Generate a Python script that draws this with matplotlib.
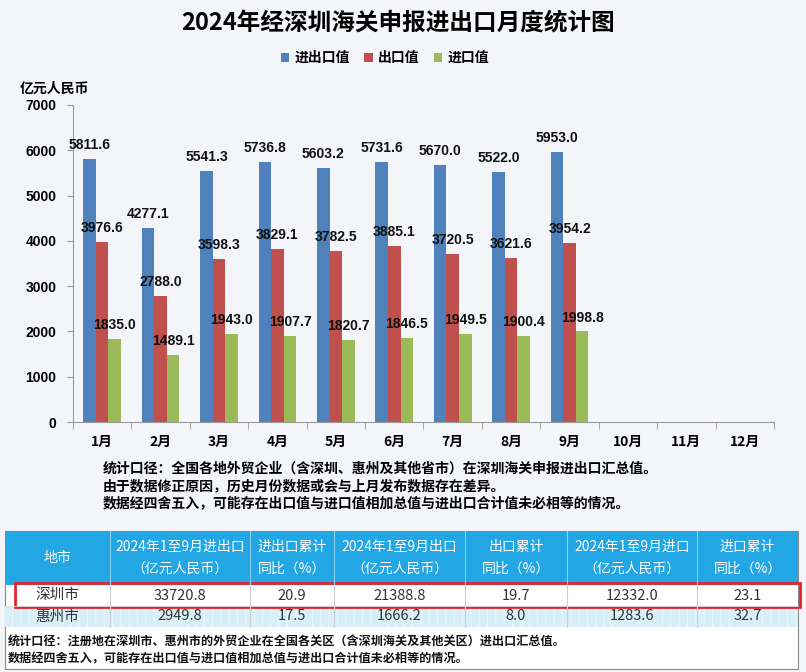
import numpy as np
import matplotlib
matplotlib.use("Agg")
import matplotlib.pyplot as plt
from matplotlib.patches import Rectangle

plt.rcParams['font.family'] = ['Noto Sans CJK SC', 'DejaVu Sans']

# chart data (亿元人民币)
months = ["1月", "2月", "3月", "4月", "5月", "6月", "7月", "8月", "9月", "10月", "11月", "12月"]
total = [5811.6, 4277.1, 5541.3, 5736.8, 5603.2, 5731.6, 5670.0, 5522.0, 5953.0]
export = [3976.6, 2788.0, 3598.3, 3829.1, 3782.5, 3885.1, 3720.5, 3621.6, 3954.2]
imports = [1835.0, 1489.1, 1943.0, 1907.7, 1820.7, 1846.5, 1949.5, 1900.4, 1998.8]
series_names = ["进出口值", "出口值", "进口值"]
yticks = [0, 1000, 2000, 3000, 4000, 5000, 6000, 7000]

# table data
table_header = ["地市", "2024年1至9月进出口\n（亿元人民币）", "进出口累计\n同比（%）",
                "2024年1至9月出口\n（亿元人民币）", "出口累计\n同比（%）",
                "2024年1至9月进口\n（亿元人民币）", "进口累计\n同比（%）"]
cities = ["深圳市", "惠州市"]
city_values = [["33720.8", "20.9", "21388.8", "19.7", "12332.0", "23.1"],
               ["2949.8", "17.5", "1666.2", "8.0", "1283.6", "32.7"]]

notes = ["统计口径：全国各地外贸企业（含深圳、惠州及其他省市）在深圳海关申报进出口汇总值。",
         "由于数据修正原因，历史月份数据或会与上月发布数据存在差异。",
         "数据经四舍五入，可能存在出口值与进口值相加总值与进出口合计值未必相等的情况。"]
table_notes = ["统计口径：注册地在深圳市、惠州市的外贸企业在全国各关区（含深圳海关及其他关区）进出口汇总值。",
               "数据经四舍五入，可能存在出口值与进口值相加总值与进出口合计值未必相等的情况。"]

colors = ["#4F81BD", "#C0504D", "#9BBB59"]
W, H = 806, 672

fig = plt.figure(figsize=(8.06, 6.72), dpi=100, facecolor="#f3f5f8")

# main bar chart
ax = fig.add_axes([73 / W, 1 - 422 / H, 701 / W, 317 / H])
ax.set_facecolor("none")
x = np.arange(len(total))
bw = 0.215
bars = []
for i, (vals, c) in enumerate(zip([total, export, imports], colors)):
    b = ax.bar(x + (i - 1) * bw, vals, bw, color=c, linewidth=0, label=series_names[i])
    bars.append(b)
    for xi, v in zip(x + (i - 1) * bw, vals):
        ax.annotate(f"{v:.1f}", (xi, v), xytext=(0, 5), textcoords="offset points",
                    ha="center", va="bottom", fontsize=10, fontweight="bold",
                    family="Liberation Sans", color="#111111")

ax.set_xlim(-0.5, len(months) - 0.5)
ax.set_ylim(0, 7000)
ax.set_yticks(yticks)
ax.set_yticklabels([str(t) for t in yticks], fontsize=10, fontweight="bold",
                   family="Liberation Sans")
ax.set_xticks(np.arange(len(months)))
ax.set_xticklabels(months, fontsize=10, fontweight="bold")
ax.set_xticks(np.arange(len(months) + 1) - 0.5, minor=True)
ax.tick_params(axis="x", which="major", length=0, pad=9)
ax.tick_params(axis="x", which="minor", length=5, color="#9a9a9a")
ax.tick_params(axis="y", length=4, color="#9a9a9a", pad=8)
for s in ["top", "right"]:
    ax.spines[s].set_visible(False)
for s in ["left", "bottom"]:
    ax.spines[s].set_color("#9a9a9a")

fig.text(398 / W, 1 - 23 / H, "2024年经深圳海关申报进出口月度统计图", ha="center", va="center",
         fontsize=17, fontweight="bold")
fig.legend(handles=bars, loc="center", bbox_to_anchor=(385 / W, 1 - 58 / H), ncol=3,
           frameon=False, handlelength=0.6, handleheight=0.6, handletextpad=0.4,
           columnspacing=1.0, prop={"size": 10, "weight": "bold"})
fig.text(20 / W, 1 - 89 / H, "亿元人民币", ha="left", va="center", fontsize=10, fontweight="bold")

for k, line in enumerate(notes):
    fig.text(103 / W, 1 - (469 + 17 * k) / H, line, ha="left", va="center",
             fontsize=10, fontweight="bold")

# table overlay in pixel coordinates
tx = fig.add_axes([0, 0, 1, 1])
tx.set_xlim(0, W)
tx.set_ylim(H, 0)
tx.axis("off")
tx.set_facecolor("none")

col_edges = [5, 110, 250, 334, 465, 567, 697, 798]
top, head_bot, row_h, frame_bot = 531, 585, 21, 669

tx.add_patch(Rectangle((col_edges[0], top), col_edges[-1] - col_edges[0], frame_bot - top,
                       facecolor="white", edgecolor="#8a8a8a", linewidth=0.8))
tx.add_patch(Rectangle((col_edges[0], top), col_edges[-1] - col_edges[0], head_bot - top,
                       facecolor="#22a6e4", edgecolor="none"))
plt.rcParams['hatch.linewidth'] = 0.6
tx.add_patch(Rectangle((col_edges[0], head_bot + row_h), col_edges[-1] - col_edges[0], row_h,
                       facecolor="#d7eff9", edgecolor="#eef8fc", hatch="||", linewidth=0))
for xe in col_edges[1:-1]:
    tx.plot([xe, xe], [top, head_bot], color="#8fd0f0", lw=0.8)
    tx.plot([xe, xe], [head_bot, head_bot + 2 * row_h], color="#cfcfcf", lw=0.8)
tx.plot([col_edges[0], col_edges[-1]], [head_bot + row_h, head_bot + row_h], color="#e0e0e0", lw=0.6)

centers = [(a + b) / 2 for a, b in zip(col_edges[:-1], col_edges[1:])]
for cx, h in zip(centers, table_header):
    tx.text(cx, (top + head_bot) / 2, h, ha="center", va="center", color="white",
            fontsize=10, fontweight="medium", linespacing=1.75)
for r, (city, vals) in enumerate(zip(cities, city_values)):
    cy = head_bot + row_h * (r + 0.5)
    for cx, v in zip(centers, [city] + vals):
        tx.text(cx, cy, v, ha="center", va="center", color="#333333", fontsize=10.5)

tx.add_patch(Rectangle((15, 583), 785, 24, facecolor="none", edgecolor="#e8242b", linewidth=2))
for k, line in enumerate(table_notes):
    tx.text(8, 642 + 17 * k, line, ha="left", va="center", fontsize=8.7,
            fontweight="bold", color="#111111")

fig.savefig("out.png", dpi=100, facecolor=fig.get_facecolor())
